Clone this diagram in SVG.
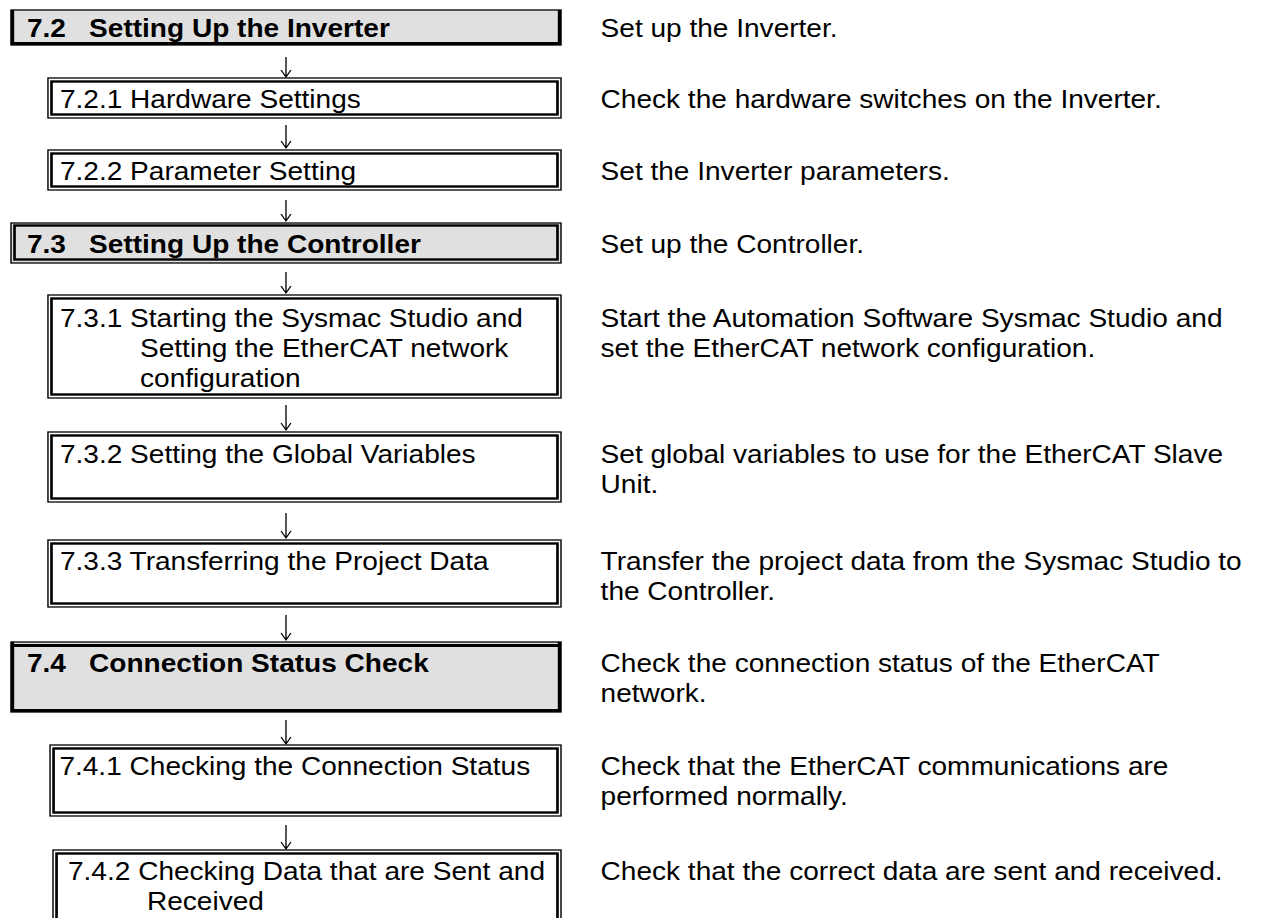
<svg xmlns="http://www.w3.org/2000/svg" width="1265" height="918" viewBox="0 0 1265 918">
<style>
.t{font-family:"Liberation Sans",Arial,sans-serif;font-size:25.5px;fill:#000}
.b{font-weight:bold}
.o{fill:#fff;stroke:#000;stroke-width:1.3}
.i{fill:none;stroke:#000;stroke-width:2.4}
.g{fill:#e0e0e0;stroke:#000;stroke-width:1.3}
.k{stroke:#000;stroke-width:3;fill:none}
.a{stroke:#000;stroke-width:1.2;fill:none}
</style>
<g transform="scale(1.1 1)">
<g id="connectors">
<path class="a" d="M260 57V77M255.5 70L260 77L264.5 70"/>
<path class="a" d="M260 125V148M255.5 141L260 148L264.5 141"/>
<path class="a" d="M260 200V221M255.5 214L260 221L264.5 214"/>
<path class="a" d="M260 272V293M255.5 286L260 293L264.5 286"/>
<path class="a" d="M260 405V430M255.5 423L260 430L264.5 423"/>
<path class="a" d="M260 513V538M255.5 531L260 538L264.5 531"/>
<path class="a" d="M260 615V640M255.5 633L260 640L264.5 633"/>
<path class="a" d="M260 720V744M255.5 737L260 744L264.5 737"/>
<path class="a" d="M260 825V849M255.5 842L260 849L264.5 842"/>
</g>
<g id="n72">
<rect class="g" x="10" y="10" width="500" height="35"/>
<path class="k" d="M11.4 10V45M10 43.5H510M508.6 10V45"/>
<text class="t b" x="24.5" y="37">7.2</text><text class="t b" x="81" y="37">Setting Up the Inverter</text>
<text class="t" x="546" y="37">Set up the Inverter.</text>
</g>
<g id="n721">
<rect class="o" x="43.6" y="78" width="466.4" height="40"/>
<rect class="i" x="46.8" y="81.5" width="460" height="33"/>
<text class="t" x="54.5" y="108">7.2.1 Hardware Settings</text>
<text class="t" x="546" y="108">Check the hardware switches on the Inverter.</text>
</g>
<g id="n722">
<rect class="o" x="43.6" y="150" width="466.4" height="40"/>
<rect class="i" x="46.8" y="153.5" width="460" height="33"/>
<text class="t" x="54.5" y="180">7.2.2 Parameter Setting</text>
<text class="t" x="546" y="180">Set the Inverter parameters.</text>
</g>
<g id="n73">
<rect class="g" x="10" y="223" width="500" height="40"/>
<rect class="i" x="13.2" y="225.5" width="493.6" height="34"/>
<text class="t b" x="24.5" y="253">7.3</text><text class="t b" x="81" y="253">Setting Up the Controller</text>
<text class="t" x="546" y="253">Set up the Controller.</text>
</g>
<g id="n731">
<rect class="o" x="43.6" y="295" width="466.4" height="103"/>
<rect class="i" x="46.8" y="298.5" width="460" height="96"/>
<text class="t" x="54.5" y="327">7.3.1 Starting the Sysmac Studio and</text>
<text class="t" x="127.3" y="357">Setting the EtherCAT network</text>
<text class="t" x="127.3" y="387">configuration</text>
<text class="t" x="546" y="327">Start the Automation Software Sysmac Studio and</text>
<text class="t" x="546" y="357">set the EtherCAT network configuration.</text>
</g>
<g id="n732">
<rect class="o" x="43.6" y="432" width="466.4" height="70"/>
<rect class="i" x="46.8" y="435.5" width="460" height="63"/>
<text class="t" x="54.5" y="463">7.3.2 Setting the Global Variables</text>
<text class="t" x="546" y="463">Set global variables to use for the EtherCAT Slave</text>
<text class="t" x="546" y="493">Unit.</text>
</g>
<g id="n733">
<rect class="o" x="43.6" y="540" width="466.4" height="67"/>
<rect class="i" x="46.8" y="543.5" width="460" height="60"/>
<text class="t" x="54.5" y="570">7.3.3 Transferring the Project Data</text>
<text class="t" x="546" y="570">Transfer the project data from the Sysmac Studio to</text>
<text class="t" x="546" y="600">the Controller.</text>
</g>
<g id="n74">
<rect class="g" x="10" y="642" width="500" height="70"/>
<path class="k" d="M10 645.5H510M11.4 642V712M10 710.5H510M508.6 642V712"/>
<text class="t b" x="24.5" y="672">7.4</text><text class="t b" x="81" y="672">Connection Status Check</text>
<text class="t" x="546" y="672">Check the connection status of the EtherCAT</text>
<text class="t" x="546" y="702">network.</text>
</g>
<g id="n741">
<rect class="o" x="45.5" y="745" width="464.5" height="71"/>
<rect class="i" x="48.7" y="748.5" width="458.1" height="64"/>
<text class="t" x="54" y="775">7.4.1 Checking the Connection Status</text>
<text class="t" x="546" y="775">Check that the EtherCAT communications are</text>
<text class="t" x="546" y="805">performed normally.</text>
</g>
<g id="n742">
<rect class="o" x="48.2" y="850" width="461.8" height="90"/>
<rect class="i" x="51.4" y="853.5" width="455.4" height="83"/>
<text class="t" x="61.8" y="880">7.4.2 Checking Data that are Sent and</text>
<text class="t" x="133.6" y="910">Received</text>
<text class="t" x="546" y="880">Check that the correct data are sent and received.</text>
</g>
</g>
</svg>
